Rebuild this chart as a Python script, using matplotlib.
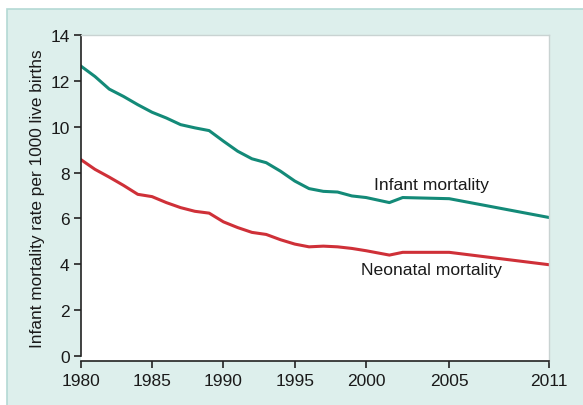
import numpy as np
import matplotlib
matplotlib.use('Agg')
import matplotlib.pyplot as plt
from matplotlib.patches import Rectangle

plt.rcParams['font.family'] = ['Liberation Sans', 'DejaVu Sans']

years = [1980, 1981, 1982, 1983, 1984, 1985, 1986, 1987, 1988, 1989, 1990,
         1991, 1992, 1993, 1994, 1995, 1996, 1997, 1998, 1999, 2000,
         2001.4, 2002.2, 2005, 2011]
infant = [12.65, 12.19, 11.64, 11.32, 10.96, 10.63, 10.38, 10.09, 9.95, 9.83, 9.37,
          8.93, 8.60, 8.43, 8.06, 7.63, 7.30, 7.18, 7.15, 6.98, 6.91,
          6.69, 6.91, 6.86, 6.04]
neonatal = [8.57, 8.14, 7.80, 7.44, 7.05, 6.95, 6.69, 6.47, 6.31, 6.23, 5.85,
            5.60, 5.39, 5.30, 5.07, 4.88, 4.76, 4.79, 4.76, 4.69, 4.59,
            4.40, 4.52, 4.52, 3.98]
xticks = [1980, 1985, 1990, 1995, 2000, 2005, 2011]
yticks = [0, 2, 4, 6, 8, 10, 12, 14]

# x axis is stretched after 2000 in the original
brk_years = np.array([1980, 2000, 2011])
brk_pos = np.array([0.0, 20.0, 20.0 + 11 * 1.165])


def fwd(x):
    return np.interp(x, brk_years, brk_pos)


def inv(x):
    return np.interp(x, brk_pos, brk_years)


W, H = 583, 406
fig = plt.figure(figsize=(W / 100, H / 100), dpi=100, facecolor='white')
fig.patches.append(Rectangle((7 / W, -0.01), 1.0, 1 - 10 / H + 0.01,
                             transform=fig.transFigure, facecolor='#ddefec',
                             edgecolor='#b4d9d4', linewidth=1.2, zorder=-1))

ax = fig.add_axes([80.7 / W, 1 - 362 / H, (549 - 80.7) / W, (362 - 36) / H])
ax.set_xscale('function', functions=(fwd, inv))

teal = '#138a78'
red = '#cf3038'
ax.plot(years, infant, color=teal, lw=2.2, solid_joinstyle='round')
ax.plot(years, neonatal, color=red, lw=2.2, solid_joinstyle='round')

ax.set_xlim(1980, 2011)
ax.set_ylim(-0.22, 14)
ax.set_xticks(xticks)
ax.set_yticks(yticks)
ax.tick_params(axis='both', labelsize=12.5, length=5, width=1.2, color='#222222',
               labelcolor='#1a1a1a')
ax.tick_params(axis='x', pad=4)
ax.tick_params(axis='y', pad=3)
ax.spines['left'].set_bounds(0, 14)
for s in ['left', 'bottom']:
    ax.spines[s].set_linewidth(1.2)
    ax.spines[s].set_color('#222222')
for s in ['top', 'right']:
    ax.spines[s].set_linewidth(1.0)
    ax.spines[s].set_color('#c9d3d2')

ax.set_ylabel('Infant mortality rate per 1000 live births', fontsize=12.4,
              color='#1a1a1a', labelpad=4)

ax.text(2003.9, 7.5, 'Infant mortality', fontsize=12.6, ha='center', va='center',
        color='#1a1a1a')
ax.text(2003.9, 3.75, 'Neonatal mortality', fontsize=12.6, ha='center', va='center',
        color='#1a1a1a')

fig.savefig('out.png', dpi=100, facecolor=fig.get_facecolor())
